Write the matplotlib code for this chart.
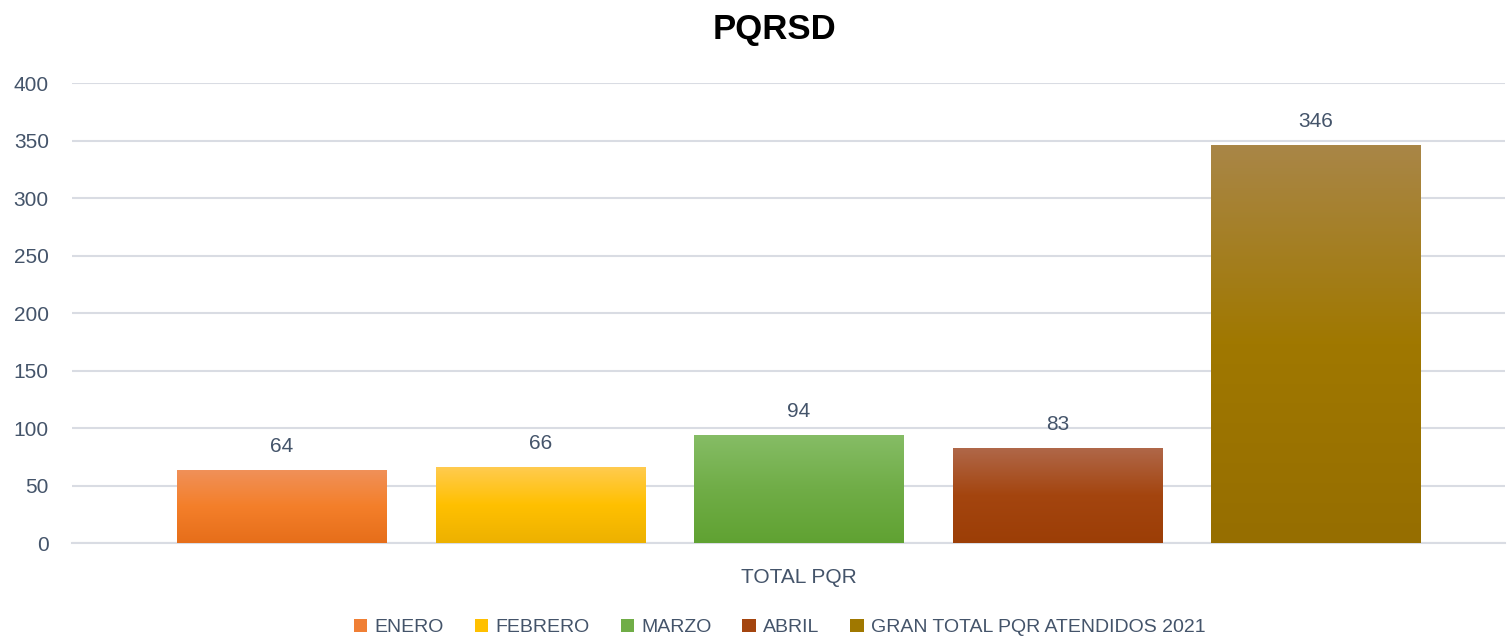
import numpy as np
import matplotlib.pyplot as plt
from matplotlib.colors import LinearSegmentedColormap
from matplotlib.patches import Patch

plt.rcParams['font.family'] = ['Liberation Sans', 'DejaVu Sans']

# datos
meses = ['ENERO', 'FEBRERO', 'MARZO', 'ABRIL', 'GRAN TOTAL PQR ATENDIDOS 2021']
valores = [64, 66, 94, 83, 346]
categoria = 'TOTAL PQR'
yticks = [0, 50, 100, 150, 200, 250, 300, 350, 400]

# degradado: arriba, medio, abajo
grad = [
    ['#F0915A', '#F47F2A', '#E66E1A'],
    ['#FFCB4F', '#FFC000', '#EDB100'],
    ['#86BD66', '#70AD47', '#60A232'],
    ['#B0684A', '#A4450F', '#9C3E06'],
    ['#A98647', '#A07800', '#966E00'],
]
leg_col = ['#F07F35', '#FFC000', '#70AD47', '#A4450F', '#A07800']
txt = '#44546A'
grid_c = '#D9DCE3'

fig = plt.figure(figsize=(15.08, 6.39), dpi=100)
ax = fig.add_axes([0.048, 0.150, 0.950, 0.720])

ancho = 0.81
x = np.arange(len(valores))
barras = ax.bar(x, valores, ancho, color='none', zorder=3)

g = np.linspace(0, 1, 256).reshape(-1, 1)
for b, cols in zip(barras, grad):
    cmap = LinearSegmentedColormap.from_list('g', cols[::-1])
    x0, y0 = b.get_x(), b.get_y()
    im = ax.imshow(g, cmap=cmap, aspect='auto', origin='lower',
                   extent=[x0, x0 + b.get_width(), y0, y0 + b.get_height()],
                   zorder=3)
    im.set_clip_path(b)

for xi, v in zip(x, valores):
    ax.text(xi, v + 12, str(v), ha='center', va='bottom', fontsize=15,
            color=txt, zorder=4)

ax.set_xlim(-0.810, 4.731)
ax.set_ylim(0, 400)
ax.set_yticks(yticks)
ax.set_yticklabels([str(t) for t in yticks], fontsize=15, color=txt)
ax.tick_params(axis='y', length=0, pad=17)
ax.set_xticks([2])
ax.set_xticklabels([categoria], fontsize=15, color=txt)
ax.tick_params(axis='x', length=0, pad=18)
ax.grid(axis='y', color=grid_c, linewidth=1.5, zorder=0)
for s in ['top', 'right', 'left']:
    ax.spines[s].set_visible(False)
ax.spines['bottom'].set_color(grid_c)
ax.spines['bottom'].set_linewidth(1.5)

ax.set_title('PQRSD', fontsize=25, fontweight='bold', pad=32, x=0.49)

handles = [Patch(facecolor=c, edgecolor='none') for c in leg_col]
fig.legend(handles, meses, loc='center', bbox_to_anchor=(0.517, 0.018),
           ncol=5, frameon=False, fontsize=14, labelcolor=txt,
           handlelength=0.7, handleheight=0.7, handletextpad=0.35,
           columnspacing=1.6)

fig.savefig('out.png', dpi=100)
